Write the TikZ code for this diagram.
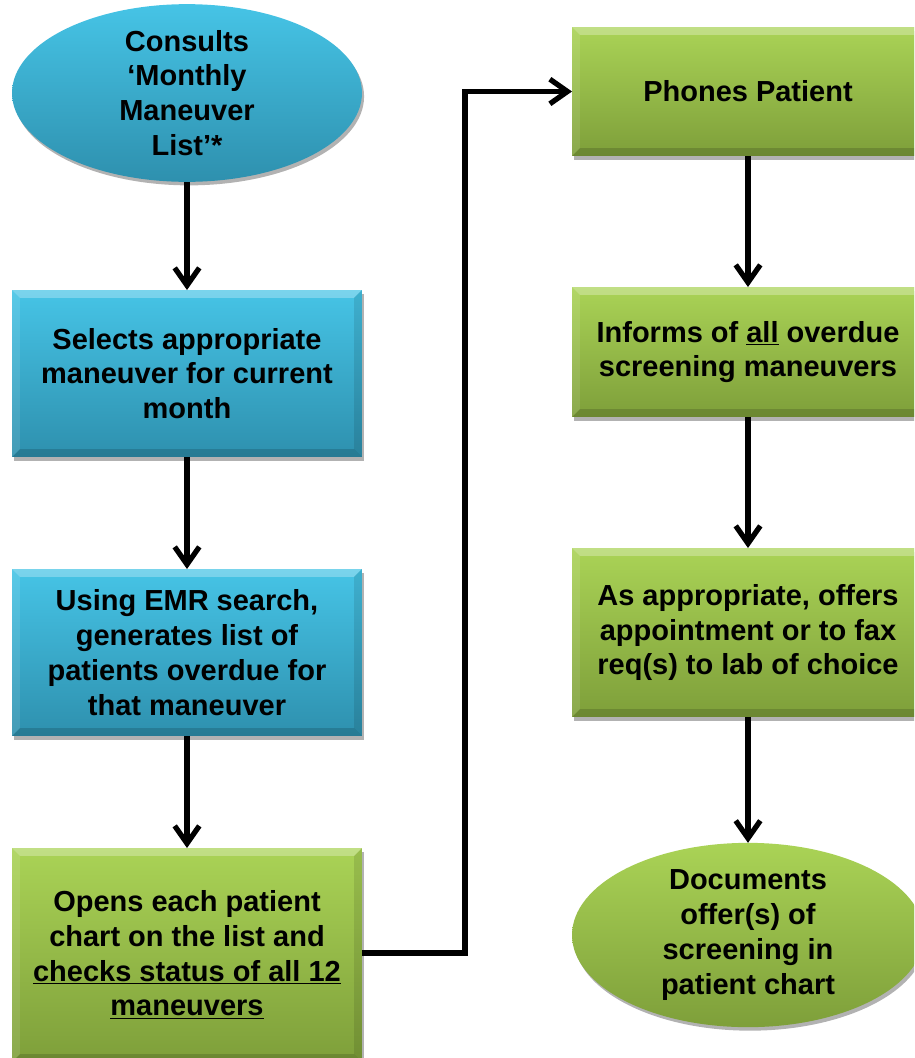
\documentclass[tikz,border=0pt]{standalone}
\usepackage{fontspec}
\setmainfont{Liberation Sans}
\usetikzlibrary{shapes.geometric,arrows.meta,shadows}
\definecolor{bluetop}{HTML}{46C4E6}
\definecolor{bluebot}{HTML}{2E90AE}
\definecolor{greentop}{HTML}{AAD356}
\definecolor{greenbot}{HTML}{7E9F3A}
\tikzset{
  txt/.style={align=center, font=\fontsize{16.5pt}{19.8pt}\selectfont\bfseries, text=black, inner sep=0pt, outer sep=0pt},
  shad/.style={drop shadow={shadow xshift=1.2pt, shadow yshift=-2pt, opacity=0.3, fill=black}},
  bevel/.style={path picture={
    \fill[white,opacity=0.28] (path picture bounding box.north west) -- (path picture bounding box.north east)
      -- ([xshift=-4.5pt,yshift=-4.5pt]path picture bounding box.north east) -- ([xshift=4.5pt,yshift=-4.5pt]path picture bounding box.north west) -- cycle;
    \fill[white,opacity=0.1] (path picture bounding box.north west) -- ([xshift=4.5pt,yshift=-4.5pt]path picture bounding box.north west)
      -- ([xshift=4.5pt,yshift=4.5pt]path picture bounding box.south west) -- (path picture bounding box.south west) -- cycle;
    \fill[black,opacity=0.15] (path picture bounding box.south west) -- (path picture bounding box.south east)
      -- ([xshift=-4.5pt,yshift=4.5pt]path picture bounding box.south east) -- ([xshift=4.5pt,yshift=4.5pt]path picture bounding box.south west) -- cycle;
    \fill[black,opacity=0.1] (path picture bounding box.north east) -- ([xshift=-4.5pt,yshift=-4.5pt]path picture bounding box.north east)
      -- ([xshift=-4.5pt,yshift=4.5pt]path picture bounding box.south east) -- (path picture bounding box.south east) -- cycle;
  }},
  bluebox/.style={txt, rectangle, top color=bluetop, bottom color=bluebot, shad, bevel, minimum width=7cm},
  greenbox/.style={txt, rectangle, top color=greentop, bottom color=greenbot, shad, bevel, minimum width=7.04cm},
  blueoval/.style={txt, ellipse, top color=bluetop, bottom color=bluebot, shad, minimum width=7cm},
  greenoval/.style={txt, ellipse, top color=greentop, bottom color=greenbot, shad, minimum width=7.04cm},
  conn/.style={line width=3pt, draw=black, -{Straight Barb[length=10pt,width=14pt]}}
}
\begin{document}
\begin{tikzpicture}[x=0.02cm, y=-0.02cm]
\useasboundingbox (0,0) rectangle (914,1058);
\clip (0,0) rectangle (914,1058);
% left column
\node[blueoval, minimum height=3.36cm] (e1) at (187,93) {Consults\\‘Monthly\\Maneuver\\List’*};
\node[bluebox, minimum height=3.34cm] (b1) at (187,373.5) {Selects appropriate\\maneuver for current\\month};
\node[bluebox, minimum height=3.34cm] (b2) at (187,652.5) {Using EMR search,\\generates list of\\patients overdue for\\that maneuver};
\node[greenbox, minimum width=7cm, minimum height=4.28cm] (b3) at (187,955) {Opens each patient\\chart on the list and\\\underline{checks status of all 12}\\\underline{maneuvers}};
% right column
\node[greenbox, minimum height=2.58cm] (r1) at (748,91.5) {Phones Patient};
\node[greenbox, minimum height=2.6cm] (r2) at (748,352) {Informs of \underline{all} overdue\\screening maneuvers};
\node[greenbox, minimum height=3.38cm] (r3) at (748,632.5) {As appropriate, offers\\appointment or to fax\\req(s) to lab of choice};
\node[greenoval, minimum height=3.48cm] (e2) at (748,935) {Documents\\offer(s) of\\screening in\\patient chart};
% connectors
\coordinate (k1) at (465,953);
\coordinate (k2) at (465,91.5);
\draw[conn] (e1.south) -- (b1.north);
\draw[conn] (b1.south) -- (b2.north);
\draw[conn] (b2.south) -- (b3.north);
\draw[conn] (b3.east |- k1) -- (k1) -- (k2) -- (r1.west);
\draw[conn] (r1.south) -- (r2.north);
\draw[conn] (r2.south) -- (r3.north);
\draw[conn] (r3.south) -- (e2.north);
\end{tikzpicture}
\end{document}
